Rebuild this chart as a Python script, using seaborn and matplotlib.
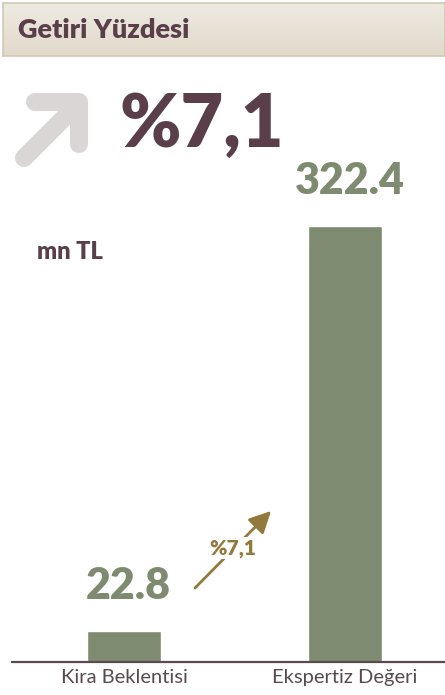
import numpy as np
import pandas as pd
import matplotlib
matplotlib.use("Agg")
import matplotlib.pyplot as plt
import seaborn as sns
from matplotlib.colors import LinearSegmentedColormap

# data
categories = ["Kira Beklentisi", "Ekspertiz Değeri"]
values = [22.8, 322.4]
value_labels = ["22.8", "322.4"]
title = "Getiri Yüzdesi"
headline = "%7,1"
unit = "mn TL"

PURPLE = "#5a3f4b"
GREEN = "#7f8b70"
GOLD = "#94793d"
W, H = 445, 695

sns.set_theme(style="white")
plt.rcParams["font.family"] = ["Lato", "DejaVu Sans"]

fig = plt.figure(figsize=(W / 100, H / 100), dpi=100)
fig.patch.set_facecolor("white")


def fx(px):
    return px / W


def fy(py):
    return 1 - py / H


# header band with soft vertical gradient
hax = fig.add_axes([fx(3), fy(56), fx(442), (56 - 3) / H])
grad = LinearSegmentedColormap.from_list("hdr", ["#eeeae2", "#e1d9ca"])
hax.imshow(np.linspace(0, 1, 50).reshape(-1, 1), aspect="auto", cmap=grad,
           extent=[0, 1, 0, 1])
hax.set_xticks([])
hax.set_yticks([])
for s in hax.spines.values():
    s.set_color("#d4c8b4")
    s.set_linewidth(1.2)
hax.text(0.034, 0.5, title, transform=hax.transAxes, ha="left", va="center",
         fontsize=19.5, fontweight="heavy", color=PURPLE)

# main bar axes
ax = fig.add_axes([fx(12), fy(662), 1 - fx(12), (662 - 60) / H])
df = pd.DataFrame({"kategori": categories, "deger": values})
sns.barplot(data=df, x="kategori", y="deger", color=GREEN, saturation=1,
            width=0.333, ax=ax)
ax.set_xlim(-0.507, 1.452)
ax.set_ylim(0, 445.3)
ax.set_xlabel("")
ax.set_ylabel("")
ax.set_yticks([])
for side in ["top", "right", "left"]:
    ax.spines[side].set_visible(False)
ax.spines["bottom"].set_color("#5a4a50")
ax.spines["bottom"].set_linewidth(1.6)
ax.tick_params(axis="x", length=0, pad=5, labelsize=14.5, labelcolor="#5a4a50")

for i, (v, lab) in enumerate(zip(values, value_labels)):
    ax.annotate(lab, xy=(i + 0.02, v), xytext=(0, 23), textcoords="offset points",
                ha="center", va="baseline", fontsize=31, fontweight="heavy",
                color=GREEN)

# small gold arrow between bars
ax.annotate("", xy=(fx(273), fy(509)), xycoords="figure fraction",
            xytext=(fx(193), fy(590)), textcoords="figure fraction",
            arrowprops=dict(arrowstyle="-|>,head_length=1.1,head_width=0.55",
                            color=GOLD, lw=2))
fig.text(fx(233), fy(548), headline, ha="center", va="center", fontsize=15,
         fontweight="heavy", color=GOLD,
         bbox=dict(facecolor="white", edgecolor="none", pad=1))

# big gray arrow icon
icon = fig.add_axes([0, 0, 1, 1], facecolor="none")
icon.set_xlim(0, W)
icon.set_ylim(H, 0)
icon.axis("off")
icon.plot([24, 76], [158, 106], color="#dad6d6", lw=13,
          solid_capstyle="round")
icon.plot([35, 79, 79], [102, 102, 144], color="#dad6d6", lw=13,
          solid_capstyle="round", solid_joinstyle="round")

fig.text(fx(119), fy(126), headline, ha="left", va="center", fontsize=53,
         fontweight="heavy", color=PURPLE)
fig.text(fx(37), fy(252), unit, ha="left", va="center", fontsize=17,
         fontweight="heavy", color=PURPLE)

fig.savefig("out.png", dpi=100, facecolor="white")
